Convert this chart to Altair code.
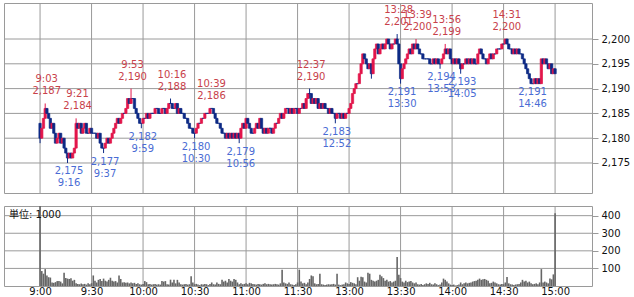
import altair as alt
import pandas as pd

FONT = "DejaVu Sans, Noto Sans CJK JP"
GRID = "#9a9a9a"
RED_BODY = "#e3164b"
NAVY = "#0d2a85"
RED_TXT = "#c8414a"
BLUE_TXT = "#4a6cd4"

# ---- price data (1-minute closes) ----
first_open = 2183
am_close = [
    2180, 2182, 2184, 2186, 2185, 2184, 2182, 2183, 2181, 2179,
    2180, 2181, 2179, 2180, 2178, 2177, 2176, 2177, 2176, 2177,
    2178, 2183, 2182, 2183, 2181, 2182, 2183, 2181, 2181, 2182,
    2181, 2181, 2181, 2180, 2181, 2179, 2178, 2178, 2179, 2180,
    2179, 2180, 2181, 2182, 2183, 2184, 2183, 2184, 2185, 2185,
    2186, 2188, 2187, 2188, 2188, 2186, 2185, 2184, 2183, 2183,
    2184, 2184, 2185, 2184, 2185, 2185, 2185, 2186, 2186, 2185,
    2185, 2186, 2186, 2185, 2186, 2187, 2187, 2186, 2186, 2187,
    2185, 2186, 2185, 2185, 2184, 2184, 2183, 2182, 2182, 2181,
    2181, 2182, 2183, 2183, 2184, 2184, 2185, 2185, 2185, 2186,
    2186, 2185, 2184, 2183, 2183, 2182, 2181, 2181, 2180, 2181,
    2180, 2181, 2180, 2181, 2180, 2181, 2180, 2182, 2183, 2182,
    2184, 2183, 2182, 2181, 2181, 2182, 2183, 2182, 2184, 2182,
    2181, 2182, 2181, 2182, 2182, 2181, 2182, 2183, 2183, 2184,
    2185, 2184, 2185, 2186, 2186, 2185, 2186, 2185, 2186, 2186,
]
pm_close = [
    2185, 2186, 2186, 2187, 2186, 2188, 2189, 2189, 2187, 2188,
    2187, 2188, 2186, 2187, 2186, 2187, 2186, 2186, 2185, 2186,
    2185, 2185, 2184, 2185, 2185, 2184, 2185, 2184, 2185, 2185,
    2186, 2187, 2189, 2190, 2191, 2191, 2193, 2195, 2197, 2196,
    2195, 2194, 2195, 2193, 2196, 2198, 2199, 2197, 2198, 2199,
    2198, 2199, 2200, 2199, 2198, 2199, 2199, 2200, 2199, 2195,
    2192, 2194, 2195, 2196, 2197, 2198, 2197, 2199, 2198, 2199,
    2198, 2197, 2197, 2196, 2196, 2196, 2196, 2195, 2195, 2196,
    2195, 2196, 2195, 2195, 2196, 2197, 2198, 2197, 2198, 2196,
    2195, 2196, 2195, 2196, 2195, 2194, 2195, 2195, 2196, 2195,
    2196, 2195, 2196, 2195, 2195, 2197, 2198, 2197, 2196, 2196,
    2195, 2196, 2197, 2196, 2197, 2197, 2198, 2198, 2198, 2199,
    2199, 2200, 2199, 2198, 2198, 2197, 2198, 2197, 2198, 2197,
    2197, 2196, 2195, 2194, 2193, 2192, 2191, 2191, 2192, 2191,
    2192, 2191, 2196, 2195, 2196, 2195, 2194, 2195, 2193, 2194,
    2193,
]
# extra wick extents (bar index, high, low)
wick_idx = [0, 3, 16, 21, 37, 53, 59, 76, 90, 116, 157, 172, 193, 208, 210, 219, 233, 236, 245]
wick_hi = [2183, 2187, 2177, 2184, 2178, 2190, 2183, 2188, 2181, 2181, 2190, 2185, 2195, 2201, 2195, 2200, 2195, 2199, 2195]
wick_lo = [2179, 2184, 2175, 2178, 2177, 2187, 2182, 2187, 2180, 2179, 2188, 2183, 2192, 2199, 2191, 2198, 2194, 2197, 2193]

# ---- volume (unit: 1000 shares) ----
am_vol = [
    640, 85, 70, 96, 60, 50, 48, 20, 18, 22, 28, 28, 25, 15, 75, 45, 42, 40, 44, 30,
    35, 15, 12, 10, 14, 10, 12, 8, 15, 10, 16, 60, 30, 20, 35, 40, 28, 42, 30, 25,
    35, 47, 30, 25, 28, 20, 60, 40, 20, 22, 18, 20, 15, 20, 15, 18, 12, 15, 10, 8,
    12, 28, 22, 10, 12, 8, 10, 12, 8, 10, 8, 28, 25, 28, 10, 8, 36, 20, 36, 15,
    35, 20, 10, 8, 10, 12, 8, 10, 55, 20, 10, 12, 8, 5, 10, 8, 12, 10, 5, 12,
    20, 10, 8, 20, 12, 10, 35, 25, 30, 20, 40, 30, 25, 40, 35, 20, 10, 15, 10, 12,
    15, 10, 18, 15, 12, 10, 8, 12, 10, 8, 12, 15, 10, 12, 10, 8, 10, 12, 10, 8,
    15, 93, 20, 15, 12, 20, 10, 8, 5, 10,
]
pm_vol = [
    20, 93, 25, 15, 18, 10, 20, 40, 60, 55, 15, 10, 12, 70, 10, 8, 5, 8, 10, 8,
    10, 12, 8, 70, 8, 5, 8, 10, 20, 15, 12, 22, 18, 15, 10, 50, 30, 52, 50, 25,
    20, 75, 70, 35, 30, 25, 30, 35, 64, 55, 45, 30, 35, 25, 28, 20, 25, 30, 165, 64,
    45, 25, 20, 30, 22, 25, 28, 20, 15, 20, 10, 8, 12, 5, 10, 15, 12, 18, 10, 8,
    15, 10, 5, 8, 20, 42, 35, 25, 15, 8, 5, 8, 3, 5, 8, 20, 10, 15, 20, 15,
    18, 20, 25, 28, 30, 35, 42, 35, 38, 40, 35, 30, 15, 18, 25, 20, 15, 10, 8, 12,
    10, 20, 51, 15, 10, 8, 5, 8, 10, 12, 20, 35, 25, 30, 20, 25, 15, 10, 12, 15,
    10, 20, 96, 20, 25, 20, 15, 42, 38, 66, 414,
]

# ---- annotations ----
hi_times = ["9:03", "9:21", "9:53", "10:16", "10:39", "12:37", "13:28", "13:39", "13:56", "14:31"]
hi_vals = [2187, 2184, 2190, 2188, 2186, 2190, 2201, 2200, 2199, 2200]
lo_times = ["9:16", "9:37", "9:59", "10:30", "10:56", "12:52", "13:30", "13:53", "14:05", "14:46"]
lo_vals = [2175, 2177, 2182, 2180, 2179, 2183, 2191, 2194, 2193, 2191]

tick_labels = ["9:00", "9:30", "10:00", "10:30", "11:00", "11:30", "13:00", "13:30", "14:00", "14:30", "15:00"]
price_ticks = [2175, 2180, 2185, 2190, 2195, 2200]
vol_ticks = [100, 200, 300, 400]


def idx_of(t):
    h, m = map(int, t.split(":"))
    mm = h * 60 + m
    return mm - 540 if mm < 720 else mm - 600


# build candle table
closes = am_close + pm_close
idxs = list(range(len(am_close))) + [150 + k for k in range(len(pm_close))]
ext = {i: (h, l) for i, h, l in zip(wick_idx, wick_hi, wick_lo)}
rows = []
prev = first_open
for i, c in zip(idxs, closes):
    o = prev
    hi, lo = max(o, c), min(o, c)
    if i in ext:
        hi = max(hi, ext[i][0])
        lo = min(lo, ext[i][1])
    rows.append({"i": i, "o": o, "c": c, "hi": hi, "lo": lo, "dir": "up" if c > o else "down"})
    prev = c
cdf = pd.DataFrame(rows)

vdf = pd.DataFrame({
    "i": list(range(len(am_vol))) + [150 + k for k in range(len(pm_vol))],
    "v": am_vol + pm_vol,
})

hdf = pd.DataFrame({"i": [idx_of(t) for t in hi_times], "p": hi_vals,
                    "t": hi_times, "s": [f"{v:,}" for v in hi_vals]})
ldf = pd.DataFrame({"i": [idx_of(t) for t in lo_times], "p": lo_vals,
                    "t": lo_times, "s": [f"{v:,}" for v in lo_vals]})

x_vals = [150 if t == "11:30" else idx_of(t) for t in tick_labels]
xgrid_df = pd.DataFrame({"i": x_vals})
pgrid_df = pd.DataFrame({"p": price_ticks})
vgrid_df = pd.DataFrame({"v": vol_ticks})

x_scale = alt.Scale(domain=[-21, 321.5], nice=False, zero=False, padding=0)
p_scale = alt.Scale(domain=[2168.95, 2207.26], nice=False, zero=False, padding=0)
v_scale = alt.Scale(domain=[0, 455], nice=False, zero=False, padding=0)
dir_scale = alt.Scale(domain=["up", "down"], range=[RED_BODY, NAVY])

axis_common = dict(labelFont=FONT, labelFontSize=10, labelColor="#111", title=None,
                   domain=False, grid=False)

y_axis_price = alt.Axis(values=price_ticks, orient="right", format=",",
                        tickColor=GRID, tickSize=6, labelPadding=3, **axis_common)
label_arr = "[" + ",".join(f"'{t}'" for t in tick_labels) + "]"
x_axis_bot = alt.Axis(values=x_vals, ticks=False, labelPadding=0,
                      labelExpr=f"{label_arr}[round(datum.value/30)]", **axis_common)
y_axis_vol = alt.Axis(values=vol_ticks, orient="right", tickColor=GRID,
                      tickSize=6, labelPadding=3, **axis_common)


def XT():
    return alt.X("i:Q", scale=x_scale, axis=None)


def YP(f):
    return alt.Y(f"{f}:Q", scale=p_scale, axis=y_axis_price)


def XB():
    return alt.X("i:Q", scale=x_scale, axis=x_axis_bot)


def YV():
    return alt.Y("v:Q", scale=v_scale, axis=y_axis_vol)


# grid lines (drawn from tick value lists through the scales)
top_vgrid = alt.Chart(xgrid_df).mark_rule(color=GRID, strokeWidth=1).encode(x=XT())
top_hgrid = alt.Chart(pgrid_df).mark_rule(color=GRID, strokeWidth=1).encode(y=YP("p"))

wick = alt.Chart(cdf).mark_rule(strokeWidth=1).encode(
    x=XT(), y=YP("lo"), y2="hi:Q",
    color=alt.Color("dir:N", scale=dir_scale, legend=None),
)
body = alt.Chart(cdf).mark_bar(size=2.3, strokeWidth=0.7).encode(
    x=XT(), y=YP("o"), y2="c:Q",
    color=alt.Color("dir:N", scale=dir_scale, legend=None),
    stroke=alt.Stroke("dir:N", scale=dir_scale, legend=None),
)


def txt(df, field, dy, color):
    return alt.Chart(df).mark_text(dy=dy, dx=1.5, font=FONT, fontSize=10, color=color,
                                   baseline="middle", align="center").encode(
        x=XT(), y=YP("p"), text=f"{field}:N",
    )


top = alt.layer(
    top_vgrid, top_hgrid, wick, body,
    txt(hdf, "t", -24, RED_TXT), txt(hdf, "s", -12, RED_TXT),
    txt(ldf, "s", 8.5, BLUE_TXT), txt(ldf, "t", 20.5, BLUE_TXT),
).properties(width=588, height=190)

bot_vgrid = alt.Chart(xgrid_df).mark_rule(color=GRID, strokeWidth=1).encode(x=XB())
bot_hgrid = alt.Chart(vgrid_df).mark_rule(color=GRID, strokeWidth=1).encode(y=YV())
volbar = alt.Chart(vdf).mark_bar(size=1.6, color="#666666", clip=True).encode(x=XB(), y=YV())
unit = alt.Chart(pd.DataFrame({"t": ["単位: 1000"]})).mark_text(
    align="left", baseline="middle", font=FONT, fontSize=10, color="#111").encode(
    text="t:N", x=alt.value(5), y=alt.value(9))

bottom = alt.layer(bot_vgrid, bot_hgrid, volbar, unit).properties(width=588, height=80)

chart = alt.vconcat(top, bottom, spacing=11).properties(
    padding={"left": 3, "top": 2, "right": 0, "bottom": 0},
    background="white",
).configure_view(stroke=GRID, strokeWidth=1)

chart.save("out.html", embed_options={"renderer": "svg", "actions": False})
